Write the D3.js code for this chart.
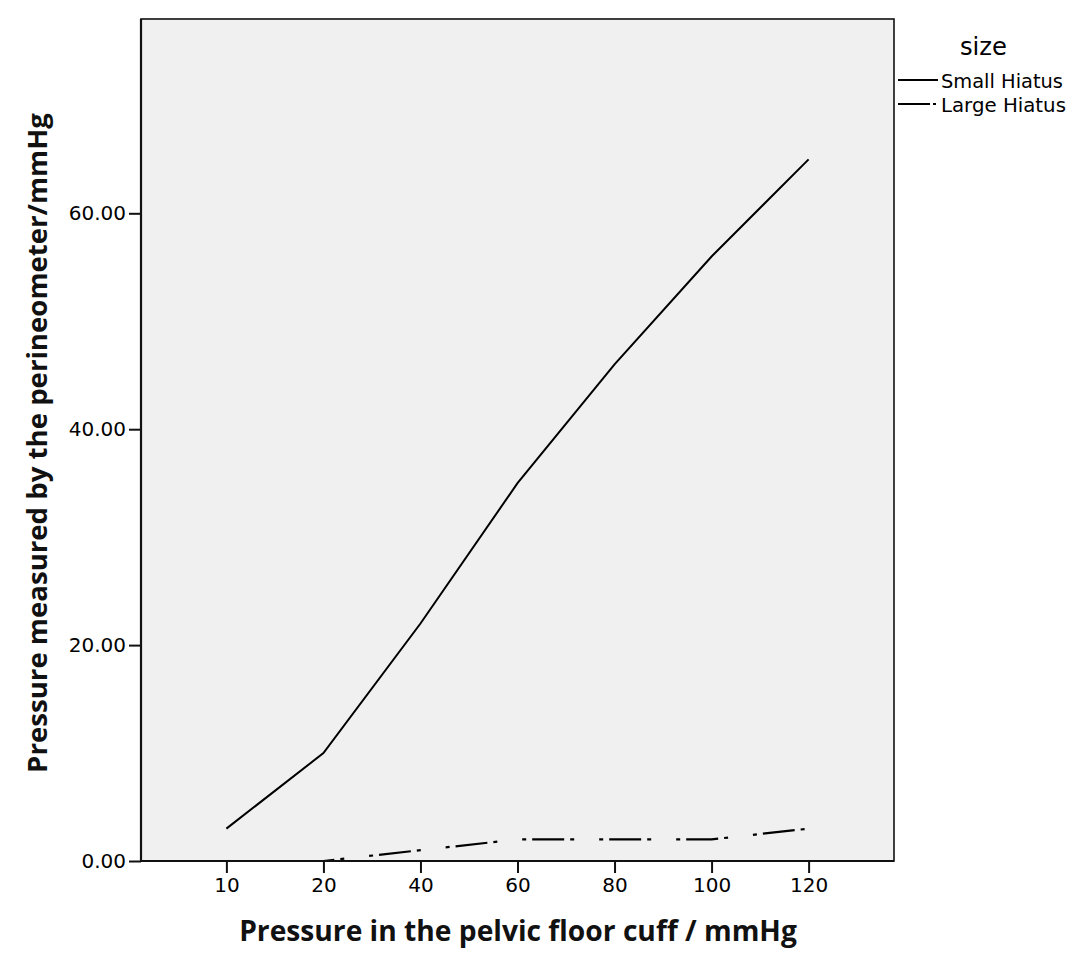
<!DOCTYPE html>
<html>
<head>
<meta charset="utf-8">
<script src="https://cdn.jsdelivr.net/npm/d3@7"></script>
<style>
  html, body { margin: 0; padding: 0; background: #ffffff; }
  svg { display: block; }
</style>
</head>
<body>
<svg id="chart" width="1080" height="971"></svg>
<script>
// ---- data ----
const categories = ["10", "20", "40", "60", "80", "100", "120"];
const smallHiatus = [3, 10, 22, 35, 46, 56, 65];
const largeHiatus = [0, 0, 1, 2, 2, 2, 3];
const yTicks = [0, 20, 40, 60];
const seriesNames = ["Small Hiatus", "Large Hiatus"];
const legendTitle = "size";
const xTitle = "Pressure in the pelvic floor cuff / mmHg";
const yTitle = "Pressure measured by the perineometer/mmHg";

// ---- layout ----
const L = 141, R = 894, T = 19, B = 861;
const svg = d3.select("#chart");

const x = d3.scalePoint().domain(categories).range([L, R]).padding(0.88);
const y = d3.scaleLinear().domain([0, 78]).range([B, T]);

const tickFont = "'DejaVu Sans', sans-serif";
const titleFont = "'Open Sans', sans-serif";

// plot background
svg.append("rect")
  .attr("x", L).attr("y", T).attr("width", R - L).attr("height", B - T)
  .attr("fill", "#f0f0f0").attr("stroke", "#111").attr("stroke-width", 1.6);

// lines
const line = d3.line().x((d, i) => x(categories[i])).y(d => y(d));

svg.append("path").datum(smallHiatus)
  .attr("d", line).attr("fill", "none")
  .attr("stroke", "#000").attr("stroke-width", 2);

svg.append("path").datum(largeHiatus)
  .attr("d", line).attr("fill", "none")
  .attr("stroke", "#000").attr("stroke-width", 2.2)
  .attr("stroke-dasharray", "4,6,32,6,4,25")
  .attr("stroke-dashoffset", 11);

// axes
const xAxis = d3.axisBottom(x).tickSize(12).tickPadding(5);
const gx = svg.append("g").attr("transform", `translate(0,${B})`).call(xAxis);
gx.select(".domain").attr("stroke", "#111").attr("stroke-width", 2.2)
  .attr("d", `M${L},0H${R}`);
gx.selectAll(".tick line").attr("stroke", "#111").attr("stroke-width", 2);
gx.selectAll(".tick text").attr("font-family", tickFont).attr("font-size", 20)
  .attr("fill", "#000");

const yAxis = d3.axisLeft(y).tickValues(yTicks).tickFormat(d3.format(".2f"))
  .tickSize(12).tickPadding(3);
const gy = svg.append("g").attr("transform", `translate(${L},0)`).call(yAxis);
gy.select(".domain").attr("stroke", "#111").attr("stroke-width", 2.2)
  .attr("d", `M0,${T}V${B}`);
gy.selectAll(".tick line").attr("stroke", "#111").attr("stroke-width", 2);
gy.selectAll(".tick text").attr("font-family", tickFont).attr("font-size", 20)
  .attr("fill", "#000");

// titles (fit to measured widths)
function fit(sel, target, start) {
  let fs = start;
  sel.attr("font-size", fs);
  const w = sel.node().getComputedTextLength();
  fs = fs * target / w;
  sel.attr("font-size", fs);
}

const xt = svg.append("text")
  .attr("x", 518).attr("y", 941)
  .attr("text-anchor", "middle")
  .attr("font-family", titleFont).attr("font-weight", "bold")
  .attr("fill", "#111").text(xTitle);
fit(xt, 558, 27);

const yt = svg.append("text")
  .attr("transform", `translate(47,443) rotate(-90)`)
  .attr("text-anchor", "middle")
  .attr("font-family", titleFont).attr("font-weight", "bold")
  .attr("fill", "#111").text(yTitle);
fit(yt, 660, 27);

// legend
const lt = svg.append("text").attr("x", 960).attr("y", 55)
  .attr("font-family", tickFont).attr("fill", "#000")
  .text(legendTitle);
fit(lt, 47, 23);

const legY = [80, 104];
const legDash = [null, "32,3,3,20"];
seriesNames.forEach((name, i) => {
  svg.append("line")
    .attr("x1", 898).attr("x2", 938).attr("y1", legY[i]).attr("y2", legY[i])
    .attr("stroke", "#000").attr("stroke-width", 2)
    .attr("stroke-dasharray", legDash[i]);
  const t = svg.append("text").attr("x", 941).attr("y", legY[i] + 8)
    .attr("font-family", tickFont).attr("fill", "#000")
    .text(name);
  fit(t, i === 0 ? 122 : 125, 19);
});
</script>
</body>
</html>
